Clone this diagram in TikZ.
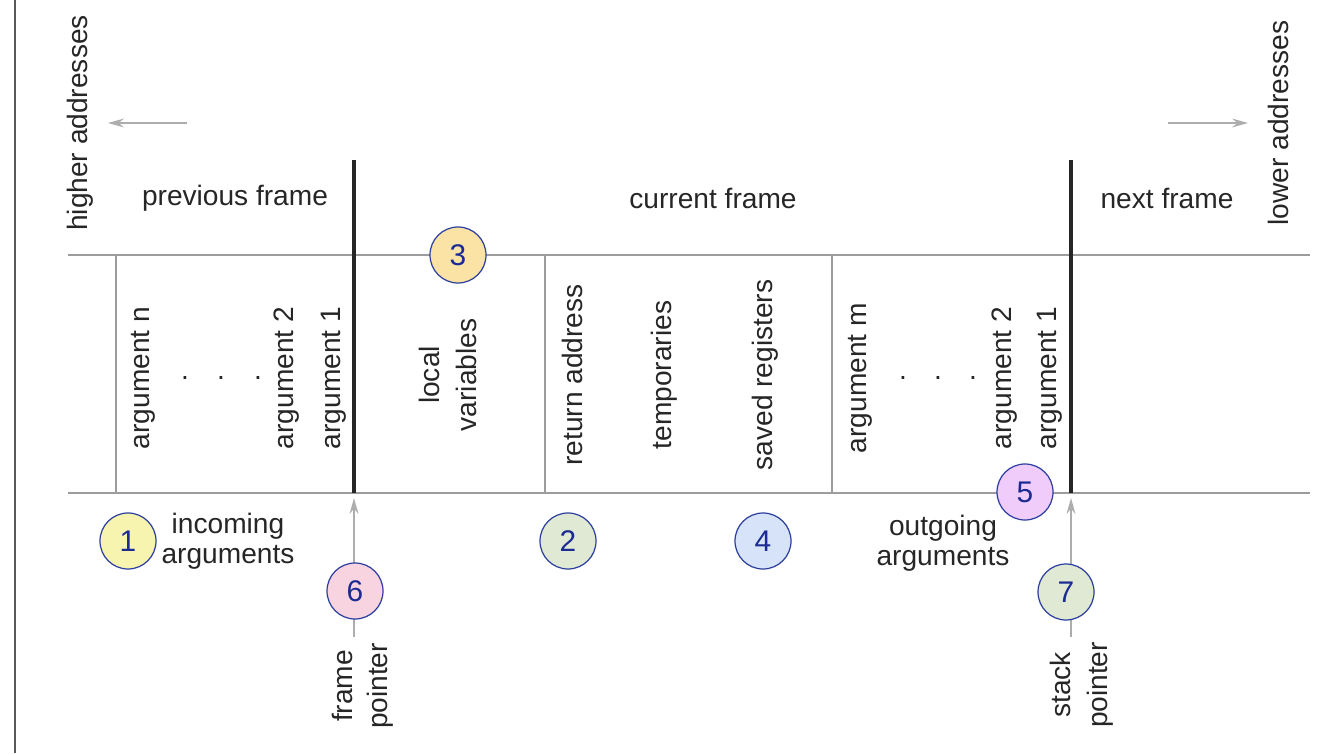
\documentclass[tikz,border=0pt]{standalone}
\usepackage{fontspec}
\setmainfont{Liberation Sans}
\usetikzlibrary{arrows.meta}

\definecolor{linegray}{HTML}{9C9C9C}
\definecolor{arrowgray}{HTML}{ADADAD}
\definecolor{ringblue}{HTML}{2C3F9E}
\definecolor{digitblue}{HTML}{1C2A94}
\definecolor{fillyellow}{HTML}{F7F4B0}
\definecolor{fillorange}{HTML}{FBE3A6}
\definecolor{fillgreen}{HTML}{E0E9D3}
\definecolor{fillblue}{HTML}{D6E3F8}
\definecolor{fillviolet}{HTML}{F0CCFA}
\definecolor{fillpink}{HTML}{F8D3E0}

\begin{document}
\begin{tikzpicture}[
    frameline/.style={draw=linegray, line width=1.6pt},
    divider/.style={draw=linegray, line width=1pt},
    boundary/.style={draw=black!85, line width=2.4pt},
    pointer/.style={draw=arrowgray, line width=1.2pt, -{Stealth[length=9pt,width=5pt]}},
    txt/.style={font=\fontsize{16}{19}\selectfont, text=black!85, inner sep=0pt},
    vtxt/.style={txt, rotate=90},
    marker/.style={circle, draw=ringblue, line width=0.7pt, minimum size=1.12cm,
        inner sep=0pt, font=\fontsize{17}{20}\selectfont, text=digitblue}
]
    \useasboundingbox (0,0) rectangle (26.76,15.06);

    % Page edge
    \draw [black!65, line width=0.8pt] (0.30,0) -- (0.30,15.06);

    % Stack rows
    \draw [frameline] (1.36,9.96) -- (26.20,9.96);
    \draw [frameline] (1.36,5.20) -- (26.20,5.20);

    % Slot dividers
    \draw [divider] (2.32,9.96) -- (2.32,5.20);
    \draw [divider] (10.90,9.96) -- (10.90,5.20);
    \draw [divider] (16.64,9.96) -- (16.64,5.20);

    % Frame boundaries
    \draw [boundary] (7.08,11.86) -- (7.08,5.20);
    \draw [boundary] (21.42,11.86) -- (21.42,5.20);

    % Address directions
    \node (higher) at (1.60,12.60) [vtxt] {higher addresses};
    \node (lower) at (25.56,12.60) [vtxt] {lower addresses};
    \coordinate (hstart) at (3.74,12.60);
    \coordinate (hend) at (2.16,12.60);
    \coordinate (lstart) at (23.36,12.60);
    \coordinate (lend) at (24.96,12.60);
    \draw [pointer, line width=0.9pt] (hstart) -- (hend);
    \draw [pointer, line width=0.9pt] (lstart) -- (lend);

    % Frame titles
    \node (prev) at (4.70,11.10) [txt] {previous frame};
    \node (curr) at (14.26,11.10) [txt] {current frame};
    \node (next) at (23.34,11.10) [txt] {next frame};

    % Incoming arguments
    \node (argn) at (2.86,7.50) [vtxt] {argument n};
    \node (dotsa) at (3.70,7.50) [txt] {.};
    \node (dotsb) at (4.42,7.50) [txt] {.};
    \node (dotsc) at (5.16,7.50) [txt] {.};
    \node (inarg2) at (5.74,7.50) [vtxt] {argument 2};
    \node (inarg1) at (6.68,7.50) [vtxt] {argument 1};

    % Locals and saved state
    \node (locals) at (8.96,7.56) [vtxt, align=center,
        font=\fontsize{16}{21}\selectfont] {local\\variables};
    \node (retaddr) at (11.44,7.56) [vtxt] {return address};
    \node (temps) at (13.28,7.56) [vtxt] {temporaries};
    \node (saved) at (15.30,7.56) [vtxt] {saved registers};

    % Outgoing arguments
    \node (argm) at (17.20,7.50) [vtxt] {argument m};
    \node (dotsd) at (18.06,7.50) [txt] {.};
    \node (dotse) at (18.76,7.50) [txt] {.};
    \node (dotsf) at (19.46,7.50) [txt] {.};
    \node (outarg2) at (20.10,7.50) [vtxt] {argument 2};
    \node (outarg1) at (21.00,7.50) [vtxt] {argument 1};

    % Pointers
    \coordinate (fpbase) at (7.08,2.32);
    \coordinate (fptip) at (7.08,5.10);
    \coordinate (spbase) at (21.42,2.32);
    \coordinate (sptip) at (21.42,5.10);
    \draw [pointer] (fpbase) -- (fptip);
    \draw [pointer] (spbase) -- (sptip);
    \node (fp) at (7.26,1.34) [vtxt, align=center,
        font=\fontsize{16}{20}\selectfont] {frame\\pointer};
    \node (sp) at (21.64,1.36) [vtxt, align=center,
        font=\fontsize{16}{21}\selectfont] {stack\\pointer};

    % Region captions
    \node (incoming) at (4.56,4.24) [txt, align=center,
        font=\fontsize{16}{17}\selectfont] {incoming\\arguments};
    \node (outgoing) at (18.86,4.20) [txt, align=center,
        font=\fontsize{16}{17}\selectfont] {outgoing\\arguments};

    % Numbered markers
    \node (m1) at (2.56,4.24) [marker, fill=fillyellow] {1};
    \node (m2) at (11.36,4.24) [marker, fill=fillgreen] {2};
    \node (m3) at (9.16,9.96) [marker, fill=fillorange] {3};
    \node (m4) at (15.26,4.24) [marker, fill=fillblue] {4};
    \node (m5) at (20.50,5.22) [marker, fill=fillviolet] {5};
    \node (m6) at (7.10,3.24) [marker, fill=fillpink] {6};
    \node (m7) at (21.32,3.22) [marker, fill=fillgreen] {7};
\end{tikzpicture}
\end{document}
